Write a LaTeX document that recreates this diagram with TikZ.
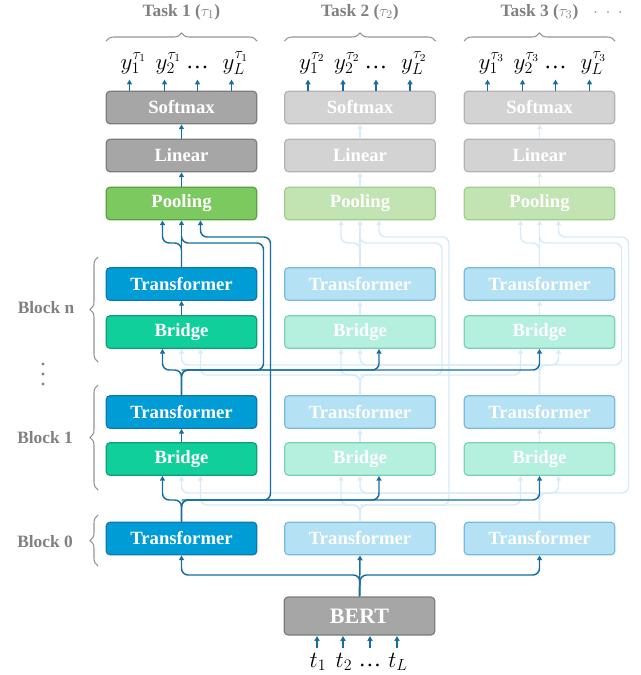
\documentclass[tikz,border=0pt]{standalone}
\usepackage{fontspec}
\setmainfont{Liberation Serif}
\usetikzlibrary{arrows.meta,calc,decorations.pathreplacing}
\definecolor{tfD}{RGB}{0,156,214}\definecolor{bdtfD}{RGB}{12,122,172}
\definecolor{brD}{RGB}{17,207,155}\definecolor{bdbrD}{RGB}{16,158,118}
\definecolor{plD}{RGB}{124,201,96}\definecolor{bdplD}{RGB}{88,160,64}
\definecolor{gyD}{RGB}{166,166,166}\definecolor{bdgyD}{RGB}{124,124,124}
\definecolor{tfL}{RGB}{180,225,243}\definecolor{bdtfL}{RGB}{118,186,220}
\definecolor{brL}{RGB}{181,239,222}\definecolor{bdbrL}{RGB}{118,212,180}
\definecolor{plL}{RGB}{193,228,178}\definecolor{bdplL}{RGB}{158,206,138}
\definecolor{gyL}{RGB}{211,211,211}\definecolor{bdgyL}{RGB}{178,178,178}
\definecolor{lnD}{RGB}{22,110,160}
\definecolor{lnL}{RGB}{216,235,248}
\definecolor{lbl}{RGB}{128,128,128}
\def\Xa{181.5}\def\Xb{360}\def\Xc{539.5}
% column wires: #1 col, #2 X, #3 style, #4 join y (block n), #5 join y (block 1)
\newcommand\colwires[5]{%
  \draw[wire=#3,arr] (lin#1.north) -- (soft#1.south);
  \draw[wire=#3,arr] (pool#1.north) -- (lin#1.south);
  \draw[wire=#3,arr] (tn#1.north) -- (pool#1.south);
  \draw[wire=#3,arr] (tn#1.north) -- (#2,243) -| ($(pool#1.south)+(-19,0)$);
  \draw[wire=#3] (#2,236) -- (#2,243) -- (#2+82,243) -- (#2+82,#4) -- (#2,#4);
  \draw[wire=#3,arr] (#2,#5) -- (#2+89,#5) -- (#2+89,237) -| ($(pool#1.south)+(19,0)$);
  \draw[wire=#3,arr] (bn#1.north) -- (tn#1.south);
  \draw[wire=#3,arr] (bone#1.north) -- (tone#1.south);
}
% faded level wires: #1 transformer prefix, #2 bridge prefix, #3 yu, #4 yl
\newcommand\levelfaded[4]{%
  \draw[wire=L,arr] (#12.north) -- (\Xb,#4) -| ($(#22.south)+(-19,0)$);
  \draw[wire=L,arr] (#12.north) -- (\Xb,#4) -| ($(#21.south)+(19,0)$);
  \draw[wire=L,arr] (#12.north) -- (\Xb,#4) -| ($(#23.south)+(-19,0)$);
  \draw[wire=L,arr] (#13.north) -- (\Xc,#3) -| ($(#23.south)+(19,0)$);
  \draw[wire=L,arr] (#13.north) -- (\Xc,#3) -| (#21.south);
  \draw[wire=L,arr] (#13.north) -- (\Xc,#3) -| (#22.south);
}
\newcommand\leveldark[3]{%
  \draw[wire=D,arr] (#11.north) -- (\Xa,#3) -| ($(#21.south)+(-19,0)$);
  \draw[wire=D,arr] (#11.north) -- (\Xa,#3) -| ($(#22.south)+(19,0)$);
  \draw[wire=D,arr] (#11.north) -- (\Xa,#3) -| (#23.south);
}
\begin{document}
\begin{tikzpicture}[x=0.75pt,y=-0.75pt,
  box/.style={rounded corners=3pt, line width=0.9pt, minimum width=113pt,
    minimum height=24.5pt, inner sep=0pt, text=white,
    font=\fontsize{14}{16}\selectfont\bfseries},
  tf/.style={box, fill=tf#1, draw=bdtf#1},
  br/.style={box, fill=br#1, draw=bdbr#1},
  pl/.style={box, fill=pl#1, draw=bdpl#1},
  gy/.style={box, fill=gy#1, draw=bdgy#1},
  wire/.style={draw=ln#1, line width=1.1pt, rounded corners=5pt},
  arr/.style={-{Triangle[length=3.6pt,width=3.8pt]}},
  brc/.style={draw=lbl!85, line width=0.8pt, decorate,
    decoration={brace, amplitude=6pt}},
  lab/.style={text=lbl, font=\fontsize{13}{15}\selectfont\bfseries},
  mth/.style={font=\fontsize{17}{19}\selectfont, inner sep=1pt}
]
\useasboundingbox (0,0) rectangle (641,675);

% boxes
\foreach \c/\X/\s in {1/181.5/D, 2/360/L, 3/539.5/L} {
  \node[gy=\s] (soft\c) at (\X,107.5) {Softmax};
  \node[gy=\s] (lin\c) at (\X,155.5) {Linear};
  \node[pl=\s] (pool\c) at (\X,203.5) {Pooling};
  \node[tf=\s] (tn\c) at (\X,284) {Transformer};
  \node[br=\s] (bn\c) at (\X,332) {Bridge};
  \node[tf=\s] (tone\c) at (\X,412) {Transformer};
  \node[br=\s] (bone\c) at (\X,459) {Bridge};
  \node[tf=\s] (tzero\c) at (\X,538.5) {Transformer};
}
\node[box, fill=gyD, draw=bdgyD, minimum height=28.5pt, font=\fontsize{16.5}{18}\selectfont\bfseries] (bert) at (359.5,616) {BERT};

% faded wires
\colwires{2}{\Xb}{L}{375}{505}
\colwires{3}{\Xc}{L}{365}{493}
\levelfaded{tone}{bn}{365}{375}
\levelfaded{tzero}{bone}{493}{505}

% dark wires
\colwires{1}{\Xa}{D}{370}{500}
\leveldark{tone}{bn}{370}
\leveldark{tzero}{bone}{500}
\draw[wire=D,arr] (bert.north) -- (tzero2.south);
\draw[wire=D,arr] (bert.north) -- (\Xb,575) -| (tzero1.south);
\draw[wire=D,arr] (bert.north) -- (\Xb,575) -| (tzero3.south);

% outputs
\foreach \c/\X in {1/181.5, 2/360, 3/539.5} {
  \foreach \d in {-52,-17,16,50} {
    \draw[wire=D,arr] ($(soft\c.north)+(\d,0)$) -- ++(0,-11);
  }
  \node[mth] (ya\c) at (\X-48,63) {$y_1^{\tau_\c}$};
  \node[mth] (yb\c) at (\X-13,63) {$y_2^{\tau_\c}$};
  \node[mth] (yc\c) at (\X+16,67) {\dots};
  \node[mth] (yd\c) at (\X+54,63) {$y_L^{\tau_\c}$};
  \node[lab] (task\c) at (\X,12) {Task \c{} (\mdseries$\tau_\c$\bfseries)};
  \draw[brc] (\X-75.5,41) -- (\X+75.5,41);
}
\node[lab, inner sep=0pt] (more) at (608,13) {$\cdot\;\cdot\;\cdot$};

% inputs
\node[mth] (ti1) at (318,662) {$t_1$};
\node[mth] (ti2) at (344,662) {$t_2$};
\node[mth] (ti3) at (370,665) {\dots};
\node[mth] (ti4) at (398,662) {$t_L$};
\foreach \i/\x in {1/317,2/343,3/370,4/397} {
  \draw[wire=D,arr] (\x,648) -- (\x,636);
}

% block labels
\node[lab] (blkn) at (46,308) {Block n};
\node[lab] (blk1) at (45,438) {Block 1};
\node[lab] (blk0) at (45,542) {Block 0};
\draw[brc] (98,362) -- (98,257);
\draw[brc] (98,490) -- (98,385);
\draw[brc] (98,566) -- (98,515);
\foreach \y in {364,374,384} { \fill[lbl] (43,\y) circle (1.3pt); }
\end{tikzpicture}
\end{document}
